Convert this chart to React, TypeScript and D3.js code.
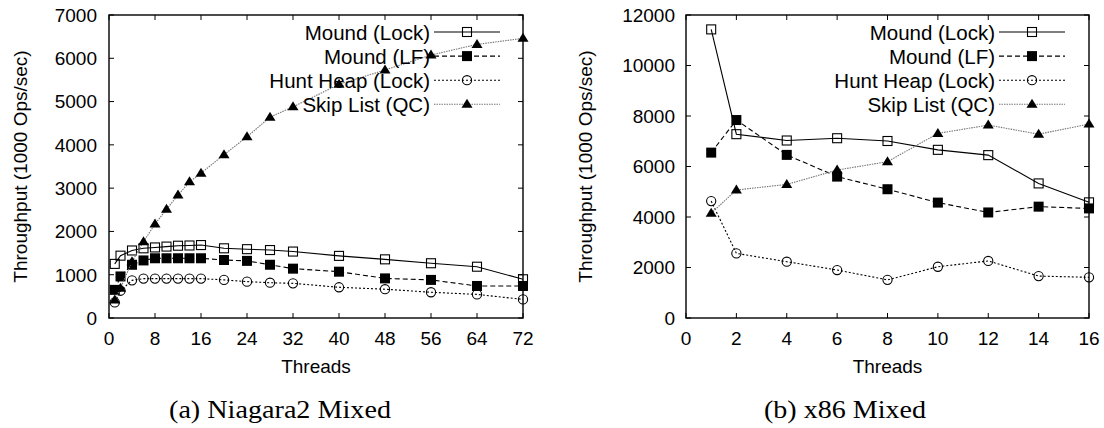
import React from "react";
import * as d3 from "d3";

// ---------- data ----------
const seriesNames = ["Mound (Lock)", "Mound (LF)", "Hunt Heap (Lock)", "Skip List (QC)"];

// (a) Niagara2 Mixed
const niagaraThreads = [1, 2, 4, 6, 8, 10, 12, 14, 16, 20, 24, 28, 32, 40, 48, 56, 64, 72];
const niagaraMoundLock = [1250, 1440, 1560, 1610, 1630, 1650, 1670, 1675, 1685, 1610, 1590, 1570, 1535, 1435, 1355, 1265, 1185, 895];
const niagaraMoundLF = [650, 960, 1230, 1330, 1380, 1380, 1380, 1380, 1380, 1340, 1320, 1230, 1140, 1070, 915, 880, 740, 740];
const niagaraHuntHeap = [360, 630, 870, 910, 910, 910, 910, 910, 910, 880, 840, 815, 800, 710, 665, 595, 545, 430];
const niagaraSkipList = [416, 690, 1300, 1763, 2171, 2510, 2841, 3146, 3346, 3773, 4185, 4640, 4878, 5398, 5729, 6075, 6321, 6460];
const niagaraXTicks = [0, 8, 16, 24, 32, 40, 48, 56, 64, 72];
const niagaraYTicks = [0, 1000, 2000, 3000, 4000, 5000, 6000, 7000];

// (b) x86 Mixed
const x86Threads = [1, 2, 4, 6, 8, 10, 12, 14, 16];
const x86MoundLock = [11430, 7280, 7030, 7120, 7010, 6660, 6450, 5330, 4580];
const x86MoundLF = [6550, 7840, 6460, 5600, 5100, 4570, 4180, 4410, 4340];
const x86HuntHeap = [4630, 2560, 2230, 1900, 1510, 2030, 2260, 1660, 1610];
const x86SkipList = [4150, 5070, 5290, 5860, 6190, 7310, 7640, 7280, 7680];
const x86XTicks = [0, 2, 4, 6, 8, 10, 12, 14, 16];
const x86YTicks = [0, 2000, 4000, 6000, 8000, 10000, 12000];

const xLabel = "Threads";
const yLabel = "Throughput (1000 Ops/sec)";

// ---------- styles ----------
const lineStyles = [
  { dash: "none", color: "#000", width: 1.1, marker: "openSquare" },
  { dash: "5 3", color: "#000", width: 1.1, marker: "filledSquare" },
  { dash: "2 2", color: "#000", width: 1.1, marker: "openCircle" },
  { dash: "1.5 1", color: "#777", width: 1.1, marker: "filledTriangle" },
];

const SANS = "'Liberation Sans', Arial, Helvetica, sans-serif";
const SERIF = "'Liberation Serif', 'Times New Roman', serif";

function Marker({ type, x, y }: { type: string; x: number; y: number }) {
  if (type === "openSquare")
    return <rect x={x - 4.5} y={y - 4.5} width={9} height={9} fill="none" stroke="#000" strokeWidth={1.1} />;
  if (type === "filledSquare")
    return <rect x={x - 5} y={y - 5} width={10} height={10} fill="#000" />;
  if (type === "openCircle")
    return <circle cx={x} cy={y} r={4.6} fill="none" stroke="#000" strokeWidth={1.1} />;
  return <path d={`M${x},${y - 5.5} L${x + 5.5},${y + 3.5} L${x - 5.5},${y + 3.5} Z`} fill="#000" />;
}

type PanelProps = {
  x0: number; x1: number; y0: number; y1: number;
  xMax: number; yMax: number;
  xTicks: number[]; yTicks: number[];
  xs: number[]; series: number[][];
  legendRight: number; ylabelX: number; yTickRight: number;
  caption: string; captionX: number; captionWidth: number;
};

function Panel(p: PanelProps) {
  const x = d3.scaleLinear().domain([0, p.xMax]).range([p.x0, p.x1]);
  const y = d3.scaleLinear().domain([0, p.yMax]).range([p.y1, p.y0]);
  const line = d3.line<number>().x((_, i) => x(p.xs[i])).y((v) => y(v));
  const tl = 5;
  const cx = (p.x0 + p.x1) / 2;
  const cy = (p.y0 + p.y1) / 2;
  return (
    <g>
      {/* ticks */}
      {p.xTicks.map((t) => (
        <g key={"xt" + t}>
          <line x1={x(t)} x2={x(t)} y1={p.y1} y2={p.y1 - tl} stroke="#000" strokeWidth={1} />
          <line x1={x(t)} x2={x(t)} y1={p.y0} y2={p.y0 + tl} stroke="#000" strokeWidth={1} />
          <text x={x(t)} y={345} textAnchor="middle" fontFamily={SANS} fontSize={19}>{t}</text>
        </g>
      ))}
      {p.yTicks.map((t) => (
        <g key={"yt" + t}>
          <line x1={p.x0} x2={p.x0 + tl} y1={y(t)} y2={y(t)} stroke="#000" strokeWidth={1} />
          <line x1={p.x1} x2={p.x1 - tl} y1={y(t)} y2={y(t)} stroke="#000" strokeWidth={1} />
          <text x={p.yTickRight} y={y(t)} dy="0.36em" textAnchor="end" fontFamily={SANS} fontSize={19}>{t}</text>
        </g>
      ))}
      {/* frame */}
      <rect x={p.x0} y={p.y0} width={p.x1 - p.x0} height={p.y1 - p.y0} fill="none" stroke="#000" strokeWidth={1.4} />
      {/* axis labels */}
      <text x={cx} y={373} textAnchor="middle" fontFamily={SANS} fontSize={19}>{xLabel}</text>
      <text transform={`translate(${p.ylabelX},${cy}) rotate(-90)`} textAnchor="middle" dy="0.36em" fontFamily={SANS} fontSize={19}>{yLabel}</text>
      {/* series */}
      {p.series.map((vals, si) => {
        const st = lineStyles[si];
        return (
          <g key={"s" + si}>
            <path d={line(vals) || ""} fill="none" stroke={st.color} strokeWidth={st.width} strokeDasharray={st.dash} />
            {vals.map((v, i) => (
              <Marker key={i} type={st.marker} x={x(p.xs[i])} y={y(v)} />
            ))}
          </g>
        );
      })}
      {/* legend */}
      {seriesNames.map((name, si) => {
        const st = lineStyles[si];
        const base = 39.5 + si * 24.1;
        const ly = base - 7.5;
        const lx1 = p.legendRight + 4;
        const lx2 = p.legendRight + 70;
        return (
          <g key={"l" + si}>
            <text x={p.legendRight} y={base} textAnchor="end" fontFamily={SANS} fontSize={20.5}>{name}</text>
            <line x1={lx1} x2={lx2} y1={ly} y2={ly} stroke={st.color} strokeWidth={st.width} strokeDasharray={st.dash} />
            <Marker type={st.marker} x={(lx1 + lx2) / 2} y={ly} />
          </g>
        );
      })}
      {/* caption */}
      <text x={p.captionX} y={418} textAnchor="middle" fontFamily={SERIF} fontSize={25}
        textLength={p.captionWidth} lengthAdjust="spacingAndGlyphs">{p.caption}</text>
    </g>
  );
}

export default function App() {
  return (
    <svg width={1104} height={428} style={{ position: "absolute", left: 0, top: 0, background: "#fff" }}>
      <rect width={1104} height={428} fill="#fff" />
      <Panel x0={109} x1={523} y0={15} y1={318} xMax={72} yMax={7000}
        xTicks={niagaraXTicks} yTicks={niagaraYTicks} xs={niagaraThreads}
        series={[niagaraMoundLock, niagaraMoundLF, niagaraHuntHeap, niagaraSkipList]}
        legendRight={430} ylabelX={20} yTickRight={97}
        caption="(a) Niagara2 Mixed" captionX={280} captionWidth={222} />
      <Panel x0={686} x1={1089} y0={15} y1={318} xMax={16} yMax={12000}
        xTicks={x86XTicks} yTicks={x86YTicks} xs={x86Threads}
        series={[x86MoundLock, x86MoundLF, x86HuntHeap, x86SkipList]}
        legendRight={995} ylabelX={585} yTickRight={675}
        caption="(b) x86 Mixed" captionX={845} captionWidth={162} />
    </svg>
  );
}
